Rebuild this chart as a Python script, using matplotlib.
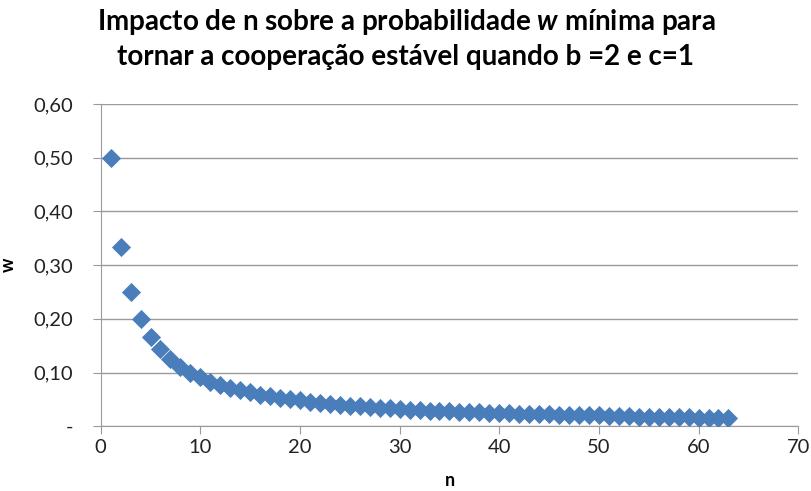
import matplotlib
matplotlib.use('Agg')
import matplotlib.pyplot as plt
from matplotlib.ticker import FuncFormatter

plt.rcParams['font.family'] = ['Lato', 'DejaVu Sans']
plt.rcParams['mathtext.fontset'] = 'custom'
plt.rcParams['mathtext.bfit'] = 'Lato:bold:italic'

# number of players n and minimum continuation probability w
n_values = list(range(1, 64))
w_values = [0.500, 0.333, 0.250, 0.200, 0.167, 0.143, 0.125, 0.111, 0.100, 0.091,
            0.083, 0.077, 0.071, 0.067, 0.063, 0.059, 0.056, 0.053, 0.050, 0.048,
            0.045, 0.043, 0.042, 0.040, 0.038, 0.037, 0.036, 0.034, 0.033, 0.032,
            0.031, 0.030, 0.029, 0.029, 0.028, 0.027, 0.026, 0.026, 0.025, 0.024,
            0.024, 0.023, 0.023, 0.022, 0.022, 0.021, 0.021, 0.020, 0.020, 0.020,
            0.019, 0.019, 0.019, 0.018, 0.018, 0.018, 0.017, 0.017, 0.017, 0.016,
            0.016, 0.016, 0.016]
x_ticks = [0, 10, 20, 30, 40, 50, 60, 70]
y_ticks = [0.0, 0.1, 0.2, 0.3, 0.4, 0.5, 0.6]

fig = plt.figure(figsize=(8.12, 4.91), dpi=100)
ax = fig.add_axes([0.124, 0.132, 0.859, 0.656])

ax.scatter(n_values, w_values, marker='D', s=95, color='#4A7EBB', zorder=3, linewidths=0)

ax.set_xlim(0, 70)
ax.set_ylim(0, 0.6)
ax.set_xticks(x_ticks)
ax.set_yticks(y_ticks)


def fmt_y(v, pos):
    if abs(v) < 1e-9:
        return '-'
    return f'{v:.2f}'.replace('.', ',')


ax.yaxis.set_major_formatter(FuncFormatter(fmt_y))
ax.grid(axis='y', color='#9a9a9a', linewidth=1)
ax.set_axisbelow(True)
for side in ['top', 'right']:
    ax.spines[side].set_visible(False)
for side in ['left', 'bottom']:
    ax.spines[side].set_color('#9a9a9a')
ax.tick_params(axis='both', colors='#9a9a9a', labelcolor='#222222', labelsize=14.5, length=6)
ax.tick_params(axis='y', pad=14)

ax.set_xlabel('n', fontsize=13, fontweight='bold', labelpad=11)
ax.set_ylabel('w', fontsize=13, fontweight='bold', labelpad=12)

fig.suptitle('Impacto de n sobre a probabilidade $\\mathbfit{w}$ mínima para\n'
             'tornar a cooperação estável quando b =2 e c=1',
             fontsize=20, fontweight='bold', y=0.985, linespacing=1.3)

fig.savefig('out.png', dpi=100)
